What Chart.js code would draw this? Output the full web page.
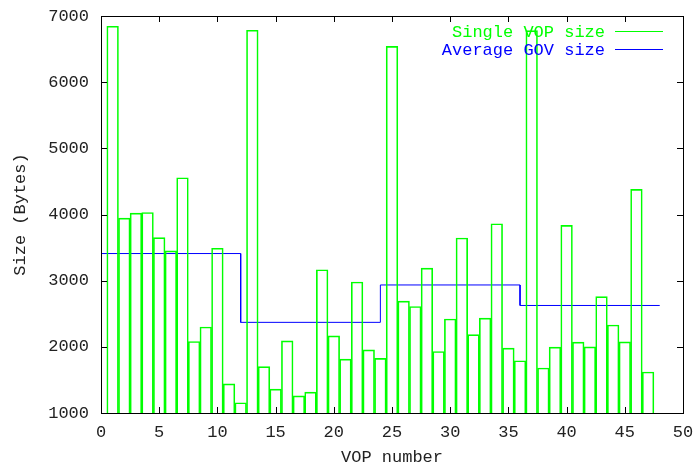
<!DOCTYPE html>
<html lang="en">
<head>
  <meta charset="UTF-8">
  <title>VOP size</title>
  <script src="https://cdn.jsdelivr.net/npm/chart.js"></script>
  <style>
    html, body { margin: 0; padding: 0; background: #fff; }
    #chartContainer { width: 693px; height: 466px; }
  </style>
</head>
<body>
  <div id="chartContainer">
    <canvas id="vopChart"></canvas>
  </div>

  <script>
    // VOP index and size in bytes
    const vopNumbers = [1, 2, 3, 4, 5, 6, 7, 8, 9, 10, 11, 12, 13, 14, 15, 16,
      17, 18, 19, 20, 21, 22, 23, 24, 25, 26, 27, 28, 29, 30, 31, 32,
      33, 34, 35, 36, 37, 38, 39, 40, 41, 42, 43, 44, 45, 46, 47];
    const vopSizes = [6845, 3945, 4020, 4030, 3650, 3450, 4555, 2080, 2300, 3490, 1440, 1155,
      6785, 1700, 1360, 2090, 1260, 1315, 3165, 2165, 1815, 2980, 1955, 1825,
      6540, 2690, 2610, 3190, 1930, 2420, 3645, 2185, 2435, 3860, 1980, 1790,
      6780, 1680, 1995, 3835, 2070, 2000, 2760, 2330, 2075, 4380, 1620];

    // average GOV size, one step per 12 VOPs
    const govX = [0, 12, 12, 24, 24, 36, 36, 48];
    const govSizes = [3410, 3410, 2370, 2370, 2935, 2935, 2625, 2625];

    const xMin = 0, xMax = 50, xStep = 5;
    const yMin = 1000, yMax = 7000, yStep = 1000;

    const FONT = { family: "'Liberation Mono', 'DejaVu Sans Mono', monospace", size: 17 };
    const GREEN = '#00ff00';
    const BLUE = '#0000ff';

    // border box with inward ticks on all four sides (gnuplot style)
    const framePlugin = {
      id: 'frame',
      afterDatasetsDraw(chart) {
        const { ctx, chartArea: a, scales: { x, y } } = chart;
        const len = 6;
        ctx.save();
        ctx.strokeStyle = '#000';
        ctx.lineWidth = 1;
        ctx.beginPath();
        x.ticks.forEach(t => {
          const px = Math.round(x.getPixelForValue(t.value)) + 0.5;
          ctx.moveTo(px, a.bottom); ctx.lineTo(px, a.bottom - len);
          ctx.moveTo(px, a.top); ctx.lineTo(px, a.top + len);
        });
        y.ticks.forEach(t => {
          const py = Math.round(y.getPixelForValue(t.value)) + 0.5;
          ctx.moveTo(a.left, py); ctx.lineTo(a.left + len, py);
          ctx.moveTo(a.right, py); ctx.lineTo(a.right - len, py);
        });
        ctx.stroke();
        ctx.strokeRect(Math.round(a.left) + 0.5, Math.round(a.top) + 0.5,
          Math.round(a.right - a.left), Math.round(a.bottom - a.top));
        ctx.restore();
      }
    };

    // key in the top right corner: text first, then line sample
    const keyPlugin = {
      id: 'key',
      afterDraw(chart) {
        const { ctx, chartArea: a } = chart;
        ctx.save();
        ctx.font = FONT.size + 'px ' + FONT.family;
        ctx.textAlign = 'right';
        ctx.textBaseline = 'middle';
        chart.data.datasets.forEach((ds, i) => {
          const yy = Math.round(a.top + 15 + i * 17.5);
          ctx.fillStyle = ds.borderColor;
          ctx.fillText(ds.label, a.right - 78, yy + 1);
          ctx.strokeStyle = ds.borderColor;
          ctx.lineWidth = 1.2;
          ctx.beginPath();
          ctx.moveTo(a.right - 68, yy + 0.5);
          ctx.lineTo(a.right - 20, yy + 0.5);
          ctx.stroke();
        });
        ctx.restore();
      }
    };

    const ctx = document.getElementById('vopChart').getContext('2d');
    new Chart(ctx, {
      type: 'bar',
      data: {
        datasets: [
          {
            type: 'bar',
            label: 'Single VOP size',
            data: vopNumbers.map((n, i) => ({ x: n, y: vopSizes[i] })),
            borderColor: GREEN,
            backgroundColor: 'rgba(0,0,0,0)',
            borderWidth: 1,
            borderSkipped: false,
            barPercentage: 1,
            categoryPercentage: 1
          },
          {
            type: 'line',
            label: 'Average GOV size',
            data: govX.map((v, i) => ({ x: v, y: govSizes[i] })),
            borderColor: BLUE,
            borderWidth: 1,
            pointRadius: 0,
            tension: 0,
            fill: false
          }
        ]
      },
      options: {
        responsive: true,
        maintainAspectRatio: false,
        animation: false,
        layout: { padding: { left: 0, right: 10, top: 16, bottom: 0 } },
        plugins: {
          legend: { display: false },
          tooltip: { enabled: false }
        },
        scales: {
          x: {
            type: 'linear',
            offset: false,
            min: xMin,
            max: xMax,
            ticks: { stepSize: xStep, color: '#222', font: FONT, padding: 9, maxRotation: 0,
              callback: v => String(v) },
            grid: { display: false, drawTicks: false },
            border: { display: false },
            title: { display: true, text: 'VOP number', color: '#222', font: { ...FONT, lineHeight: 1 }, padding: 0 },
            afterFit(scale) {
              scale.height = 53;
              scale.paddingLeft = 0;
              scale.paddingRight = 0;
            }
          },
          y: {
            min: yMin,
            max: yMax,
            ticks: { stepSize: yStep, color: '#222', font: FONT, padding: 12,
              callback: v => String(v) },
            grid: { display: false, drawTicks: false },
            border: { display: false },
            title: { display: true, text: 'Size (Bytes)', color: '#222', font: { ...FONT, lineHeight: 1 }, padding: { top: 12, bottom: 0 } },
            afterFit(scale) {
              scale.width = 101;
              scale.paddingTop = 0;
              scale.paddingBottom = 0;
            }
          }
        }
      },
      plugins: [framePlugin, keyPlugin]
    });
  </script>
</body>
</html>
